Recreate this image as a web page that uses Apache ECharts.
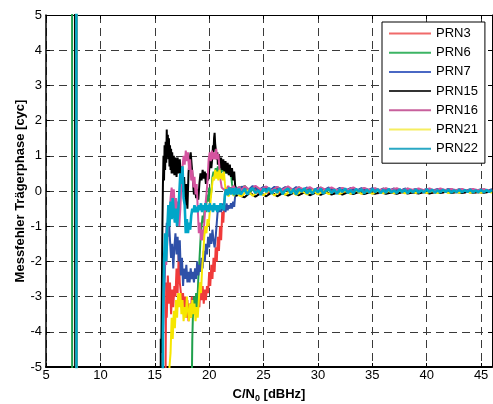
<!DOCTYPE html>
<html><head><meta charset="utf-8">
<script src="https://cdn.jsdelivr.net/npm/echarts@6/dist/echarts.min.js"></script>
<style>html,body{margin:0;padding:0;background:#fff}#c{width:493px;height:404px}</style>
</head><body><div id="c"></div>
<script>
const seriesNames = ['PRN3','PRN6','PRN7','PRN15','PRN16','PRN21','PRN22'];
const xTicks = [5,10,15,20,25,30,35,40,45];
const yTicks = [-5,-4,-3,-2,-1,0,1,2,3,4,5];
const bandStarts = [23, 23.25, 23, 23.25, 23.25, 23, 23];
const bandSteps  = [0.5, 0.5, 0.5, 0.5, 0.5, 0.5, 0.25];

const prn3Chaos = [[7.75,60],[7.9,-60],[15.9,-60],[16.0,-4.8],[16.05,-2.6],[16.1,-3.6],[16.2,-2.4],[16.3,-3.2],[16.4,-2.6],[16.5,-3.5],[16.6,-2.8],[16.7,-3.3],[16.8,-2.7],[16.9,-3.0],[17.0,-2.2],[17.1,-2.9],[17.2,-1.8],[17.3,-2.6],[17.4,-2.9],[17.5,-3.3],[17.6,-2.9],[17.7,-3.5],[17.8,-3.0],[17.9,-3.6],[18.0,-3.1],[18.1,-3.7],[18.2,-3.2],[18.3,-3.6],[18.4,-3.0],[18.5,-3.4],[18.6,-3.1],[18.7,-3.5],[18.8,-3.2],[18.9,-3.4],[19.0,-3.0],[19.1,-3.3],[19.2,-2.6],[19.3,-3.1],[19.4,-2.7],[19.5,-3.2],[19.6,-2.8],[19.7,-3.1],[19.8,-2.7],[19.9,-2.9],[20.0,-2.3],[20.1,-2.7],[20.2,-2.1],[20.3,-2.5],[20.4,-1.9],[20.5,-2.3],[20.6,-1.6],[20.7,-2.0],[20.8,-1.3],[20.9,-1.7],[21.0,-1.0],[21.1,-1.4],[21.2,-0.6],[21.3,-0.9],[21.4,-0.3],[21.5,0.08],[21.75,-0.08],[22.0,0.1],[22.25,-0.06],[22.5,0.09],[22.75,-0.07]];
const prn6Chaos = [[7.38,60],[7.42,-60],[18.35,-60],[18.42,-5],[18.45,-4.2],[18.5,-3.6],[18.6,-3.0],[18.7,-3.5],[18.8,-2.9],[18.9,-3.3],[19.0,-2.5],[19.1,-2.0],[19.2,-1.4],[19.3,-1.0],[19.4,-0.7],[19.5,-0.9],[19.6,-0.4],[19.7,-0.6],[19.8,-0.1],[19.9,-0.3],[20.0,0.1],[20.1,-0.2],[20.2,0.0],[20.3,0.4],[20.4,0.55],[20.5,0.45],[20.6,0.65],[20.7,0.5],[20.8,0.7],[20.9,0.55],[21.0,0.65],[21.1,0.5],[21.2,0.7],[21.3,0.55],[21.4,0.7],[21.5,0.5],[21.6,0.65],[21.7,0.5],[21.8,0.6],[21.9,0.45],[22.0,0.55],[22.1,0.2],[22.2,0.05],[22.4,0.14],[22.6,0.0],[22.8,0.12],[23.0,0.02]];
const prn7Chaos = [[7.7,60],[7.8,-60],[15.65,-60],[15.72,-4.8],[15.8,-3.2],[15.9,-2.6],[16.0,-1.6],[16.1,-0.9],[16.2,-1.3],[16.3,-0.8],[16.4,-1.4],[16.5,-1.9],[16.6,-1.5],[16.7,-2.2],[16.8,-1.6],[16.9,-1.2],[17.0,-1.8],[17.1,-1.3],[17.2,-2.0],[17.3,-1.4],[17.4,-2.4],[17.5,-1.9],[17.6,-2.7],[17.7,-2.2],[17.8,-2.5],[17.9,-2.1],[18.0,-2.6],[18.1,-2.3],[18.2,-2.6],[18.3,-2.2],[18.4,-2.5],[18.5,-2.3],[18.6,-2.6],[18.7,-2.2],[18.8,-2.5],[18.9,-2.0],[19.0,-2.4],[19.1,-2.1],[19.2,-2.3],[19.3,-1.9],[19.4,-2.2],[19.5,-1.7],[19.6,-2.0],[19.7,-1.5],[19.8,-1.8],[19.9,-1.3],[20.0,-1.6],[20.1,-1.2],[20.2,-1.5],[20.3,-1.1],[20.4,-1.4],[20.5,-1.6],[20.6,-1.3],[20.7,-0.9],[20.8,-0.5],[20.9,-0.6],[21.0,-0.4],[21.1,-0.6],[21.2,-0.35],[21.3,-0.55],[21.4,-0.4],[21.5,-0.6],[21.6,-0.35],[21.7,-0.55],[21.8,-0.4],[21.9,-0.5],[22.0,-0.35],[22.1,-0.5],[22.2,-0.3],[22.3,-0.45],[22.4,-0.1],[22.5,0.1],[22.75,0.0]];
const prn15Chaos = [[7.6,60],[7.75,-60],[15.5,-60],[15.55,-4.2],[15.6,-4.6],[15.7,-1.0],[15.75,0.2],[15.8,1.0],[15.85,0.3],[15.9,1.3],[15.95,0.6],[16.0,1.4],[16.05,0.8],[16.1,1.75],[16.15,1.0],[16.2,1.6],[16.25,0.9],[16.3,1.5],[16.35,0.7],[16.4,1.3],[16.45,0.6],[16.5,1.2],[16.55,0.5],[16.6,1.1],[16.7,0.5],[16.75,1.0],[16.8,0.45],[16.9,0.95],[17.0,0.4],[17.1,0.95],[17.2,0.5],[17.3,0.9],[17.4,0.3],[17.5,0.7],[17.6,0.0],[17.7,0.4],[17.8,-0.4],[17.9,0.2],[18.0,-0.5],[18.1,0.5],[18.2,0.9],[18.3,1.1],[18.4,0.7],[18.5,0.3],[18.6,-0.1],[18.7,0.1],[18.8,-0.2],[18.9,0.05],[19.0,-0.25],[19.1,0.2],[19.2,0.5],[19.3,0.3],[19.4,0.6],[19.5,0.35],[19.6,0.55],[19.7,0.2],[19.8,0.5],[19.9,0.3],[20.0,0.6],[20.1,0.9],[20.2,0.65],[20.3,1.0],[20.35,1.3],[20.4,1.1],[20.45,1.5],[20.5,1.65],[20.55,1.35],[20.6,1.2],[20.7,0.9],[20.75,1.1],[20.8,0.75],[20.9,1.05],[21.0,0.65],[21.1,0.95],[21.2,0.6],[21.3,0.9],[21.4,0.55],[21.5,0.85],[21.6,0.5],[21.7,0.8],[21.8,0.45],[21.9,0.75],[22.0,0.4],[22.1,0.65],[22.2,0.3],[22.3,0.55],[22.4,0.1],[22.5,-0.15],[22.75,-0.04],[23.0,-0.15]];
const prn16Chaos = [[7.75,60],[7.85,-60],[15.65,-60],[15.75,-4.5],[15.85,-2.6],[15.95,-1.6],[16.05,-2.1],[16.15,-1.4],[16.25,-0.4],[16.35,-0.8],[16.45,-0.2],[16.55,0.1],[16.65,-0.3],[16.75,0.05],[16.85,-0.6],[16.95,-0.2],[17.05,-0.7],[17.15,-0.3],[17.25,-1.0],[17.35,-0.5],[17.45,0.2],[17.55,0.7],[17.65,1.0],[17.75,0.75],[17.85,1.15],[17.95,0.85],[18.05,1.1],[18.15,0.6],[18.25,0.9],[18.35,0.3],[18.45,0.6],[18.55,0.1],[18.65,0.4],[18.75,-0.1],[18.85,0.2],[18.95,-0.5],[19.05,-1.2],[19.15,-0.9],[19.25,-1.4],[19.35,-1.1],[19.45,-1.4],[19.55,-0.9],[19.65,-0.4],[19.75,-0.1],[19.85,0.3],[19.95,0.9],[20.05,1.1],[20.15,0.85],[20.25,1.15],[20.35,0.9],[20.45,1.1],[20.55,0.9],[20.65,1.2],[20.75,0.9],[20.85,1.05],[20.95,0.6],[21.05,0.3],[21.15,0.1],[21.25,0.15],[21.5,0.0],[21.75,0.14],[22.0,0.02],[22.25,0.15],[22.5,0.0],[22.75,0.12],[23.0,0.02]];
const prn21Chaos = [[7.75,60],[7.85,-60],[16.3,-60],[16.35,-5],[16.45,-4.6],[16.55,-3.6],[16.65,-4.2],[16.75,-3.4],[16.85,-3.9],[16.95,-3.1],[17.05,-3.6],[17.15,-2.9],[17.25,-3.3],[17.35,-2.9],[17.45,-3.5],[17.55,-3.1],[17.65,-3.7],[17.75,-3.3],[17.85,-3.6],[17.95,-3.0],[18.05,-3.4],[18.15,-3.7],[18.25,-3.2],[18.35,-3.6],[18.45,-3.1],[18.55,-3.5],[18.65,-3.2],[18.75,-3.7],[18.85,-3.3],[18.95,-3.6],[19.05,-3.1],[19.15,-2.6],[19.25,-2.9],[19.35,-2.2],[19.45,-1.8],[19.55,-1.3],[19.65,-1.0],[19.75,-1.2],[19.85,-0.8],[19.95,-1.0],[20.05,-0.6],[20.15,-0.2],[20.25,0.1],[20.35,0.4],[20.45,0.3],[20.55,0.6],[20.65,0.35],[20.75,0.55],[20.85,0.3],[20.95,0.6],[21.05,0.35],[21.15,0.5],[21.25,0.3],[21.35,0.55],[21.45,0.2],[21.55,-0.05],[21.8,-0.15],[22.0,0.02],[22.25,-0.14],[22.5,0.0],[22.75,-0.13]];
const prn22Chaos = [[7.75,60],[7.85,-60],[15.65,-60],[15.75,-4.0],[15.85,-2.0],[15.95,-1.2],[16.05,-2.0],[16.15,-1.1],[16.25,-0.4],[16.35,-1.0],[16.45,-0.3],[16.55,-0.8],[16.65,-0.2],[16.75,-0.6],[16.85,-0.9],[16.95,-0.5],[17.05,-1.0],[17.15,-0.6],[17.25,-0.1],[17.35,0.5],[17.45,0.2],[17.55,0.7],[17.65,-0.2],[17.75,-0.4],[17.85,-1.2],[17.95,-0.8],[18.05,-1.2],[18.15,-0.9],[18.25,-1.1],[18.35,-0.7],[18.45,-0.5],[18.55,-0.6],[18.65,-0.4],[18.75,-0.6],[18.85,-0.45],[18.95,-0.6],[19.05,-0.4],[19.15,-0.55],[19.25,-0.35],[19.35,-0.6],[19.45,-0.4],[19.55,-0.55],[19.65,-0.35],[19.75,-0.55],[19.85,-0.4],[19.95,-0.6],[20.05,-0.35],[20.15,-0.55],[20.25,-0.4],[20.35,-0.6],[20.45,-0.35],[20.55,-0.55],[20.65,-0.4],[20.75,-0.6],[20.85,-0.4],[20.95,-0.55],[21.05,-0.35],[21.15,-0.5],[21.25,-0.4],[21.35,-0.55],[21.45,-0.1],[21.55,0.05],[21.7,-0.12],[21.85,0.1],[22.0,-0.1],[22.15,0.08],[22.3,-0.12],[22.45,0.09],[22.6,-0.1],[22.75,0.07],[22.9,-0.1]];

const prn3Band  = [0.12,-0.08,0.1,-0.06,0.11,-0.09,0.08,-0.07,0.1,-0.05,0.09,-0.08,0.07,-0.06,0.09,-0.05,0.08,-0.07,0.06,-0.06,0.08,-0.05,0.07,-0.06,0.06,-0.07,0.07,-0.04,0.07,-0.06,0.06,-0.05,0.06,-0.05,0.05,-0.06,0.05,-0.05,0.06,-0.04,0.05,-0.05,0.04,-0.05,0.05,-0.04,0.05];
const prn6Band  = [0.15,-0.04,0.13,-0.06,0.12,-0.03,0.12,-0.05,0.1,-0.04,0.11,-0.03,0.09,-0.05,0.1,-0.03,0.09,-0.04,0.08,-0.03,0.08,-0.04,0.08,-0.03,0.07,-0.04,0.07,-0.03,0.06,-0.04,0.07,-0.03,0.06,-0.03,0.06,-0.04,0.05,-0.03,0.06,-0.03,0.05,-0.03,0.05,-0.04,0.05,-0.03];
const prn7Band  = [0.13,0.0,0.14,0.02,0.12,-0.01,0.12,0.02,0.11,0.0,0.11,0.01,0.1,0.0,0.09,0.02,0.1,0.0,0.09,0.01,0.08,0.0,0.08,0.01,0.08,0.0,0.07,0.01,0.07,0.0,0.07,0.01,0.06,0.0,0.06,0.01,0.06,0.0,0.06,0.01,0.05,0.0,0.05,0.01,0.05,0.0,0.05];
const prn15Band = [-0.18,-0.05,-0.16,-0.06,-0.15,-0.04,-0.15,-0.06,-0.13,-0.05,-0.12,-0.04,-0.12,-0.05,-0.11,-0.04,-0.1,-0.05,-0.1,-0.04,-0.09,-0.03,-0.09,-0.04,-0.08,-0.03,-0.08,-0.04,-0.08,-0.03,-0.07,-0.04,-0.07,-0.03,-0.07,-0.03,-0.06,-0.02,-0.06,-0.03,-0.06,-0.02,-0.05,-0.03,-0.05,-0.02];
const prn16Band = [0.14,0.02,0.15,0.04,0.13,0.01,0.12,0.03,0.13,0.02,0.11,0.04,0.11,0.01,0.1,0.03,0.1,0.02,0.09,0.03,0.1,0.01,0.09,0.03,0.08,0.02,0.08,0.03,0.08,0.01,0.07,0.03,0.07,0.02,0.07,0.01,0.07,0.02,0.06,0.02,0.06,0.01,0.06,0.02,0.05,0.02];
const prn21Band = [-0.15,0.02,-0.14,0.0,-0.13,0.03,-0.13,0.0,-0.11,0.02,-0.11,0.0,-0.1,0.02,-0.1,0.0,-0.09,0.01,-0.09,0.0,-0.08,0.02,-0.08,0.0,-0.08,0.01,-0.07,0.0,-0.07,0.01,-0.07,0.0,-0.06,0.01,-0.06,0.0,-0.06,0.01,-0.06,0.0,-0.05,0.01,-0.05,0.0,-0.05,0.01,-0.05];
const prn22Band = [-0.08,0.06,-0.1,0.03,0.08,-0.06,0.02,-0.11,0.07,-0.03,0.09,-0.08,0.04,-0.05,0.08,-0.09,0.02,0.07,-0.07,0.05,-0.1,0.06,-0.02,0.08,-0.07,
  0.03,-0.08,0.06,-0.04,0.07,-0.08,0.02,0.06,-0.06,0.04,-0.08,0.05,-0.03,0.07,-0.06,0.03,-0.07,0.06,-0.02,0.05,-0.07,0.04,-0.05,0.06,-0.03,
  0.05,-0.06,0.03,-0.05,0.06,-0.04,0.02,-0.06,0.05,-0.03,0.04,-0.06,0.03,-0.04,0.05,-0.05,0.02,-0.04,0.05,-0.03,0.04,-0.05,0.02,-0.04,0.04,
  -0.03,0.04,-0.05,0.02,-0.03,0.04,-0.04,0.03,-0.03,0.04,-0.04,0.02,-0.03,0.03,-0.04,0.03,-0.03,0.03];

const chaosList = [prn3Chaos,prn6Chaos,prn7Chaos,prn15Chaos,prn16Chaos,prn21Chaos,prn22Chaos];
const bandList = [prn3Band,prn6Band,prn7Band,prn15Band,prn16Band,prn21Band,prn22Band];
const colors = ['#f03a3a','#1fa04c','#2f50a8','#000000','#d4549f','#f6e600','#00a6c8'];
const legendColors = ['#f06a6a','#3cb464','#4a68c4','#333333','#c8609c','#f6ee60','#2aa8c4'];
const lineWidths = [2, 2, 2, 2, 2, 2, 2.6];

const FONT = '"Liberation Sans", Arial, Helvetica, sans-serif';
const series = seriesNames.map((n,k)=>({
  name: n, type: 'line', symbol: 'none', showSymbol: false, clip: true,
  lineStyle: {width: lineWidths[k], color: colors[k]}, itemStyle: {color: legendColors[k]},
  data: chaosList[k].concat(bandList[k].map((y,i)=>[bandStarts[k] + i*bandSteps[k], y]))
}));

const chart = echarts.init(document.getElementById('c'), null, {renderer:'canvas'});
chart.setOption({
  animation: false,
  textStyle: {fontFamily: FONT},
  grid: {left: 46, right: 1, top: 15, bottom: 37, containLabel: false, outerBoundsMode: 'none'},
  legend: {
    orient: 'vertical', left: 382, top: 22, data: seriesNames,
    icon: 'rect',
    backgroundColor: '#fff', borderColor: '#000', borderWidth: 1,
    padding: [3, 7, 6, 7], itemWidth: 42, itemHeight: 2, itemGap: 2.2, itemTextGap: 6,
    textStyle: {fontFamily: FONT, fontSize: 13, color: '#000', lineHeight: 17}
  },
  xAxis: [{
    type: 'value', min: 5, max: 46, interval: 5,
    name: 'C/N{sub|0} [dBHz]', nameLocation: 'middle', nameGap: 19, nameMoveOverlap: false,
    nameTextStyle: {fontFamily: FONT, fontSize: 13, fontWeight: 'bold', color: '#000',
      rich: {sub: {fontFamily: FONT, fontSize: 9, fontWeight: 'bold', color: '#000', padding: [8,0,0,0]}}},
    axisLine: {onZero: false, lineStyle: {color: '#000', width: 2}},
    axisTick: {inside: true, length: 4, lineStyle: {color: '#000'}},
    axisLabel: {fontFamily: FONT, fontSize: 13, color: '#000', margin: 2, showMaxLabel: false},
    splitLine: {show: true, lineStyle: {color: '#3a3a3a', type: [8,5], width: 1}}
  },{
    type: 'value', position: 'top', min: 5, max: 46, interval: 5,
    axisLine: {onZero: false, lineStyle: {color: '#000', width: 1}},
    axisTick: {inside: true, length: 4, lineStyle: {color: '#000'}},
    axisLabel: {show: false}, splitLine: {show: false}
  }],
  yAxis: [{
    type: 'value', min: -5, max: 5, interval: 1,
    name: 'Messfehler Trägerphase [cyc]', nameLocation: 'middle', nameGap: 19, nameMoveOverlap: false,
    nameTextStyle: {fontFamily: FONT, fontSize: 13, fontWeight: 'bold', color: '#000'},
    axisLine: {onZero: false, lineStyle: {color: '#000', width: 1.5}},
    axisTick: {inside: true, length: 4, lineStyle: {color: '#000'}},
    axisLabel: {fontFamily: FONT, fontSize: 13, color: '#000', margin: 4},
    splitLine: {show: true, lineStyle: {color: '#3a3a3a', type: [8,5], width: 1}}
  },{
    type: 'value', position: 'right', min: -5, max: 5, interval: 1,
    axisLine: {onZero: false, lineStyle: {color: '#000', width: 1}},
    axisTick: {inside: true, length: 4, lineStyle: {color: '#000'}},
    axisLabel: {show: false}, splitLine: {show: false}
  }],
  series: series
});
</script></body></html>
